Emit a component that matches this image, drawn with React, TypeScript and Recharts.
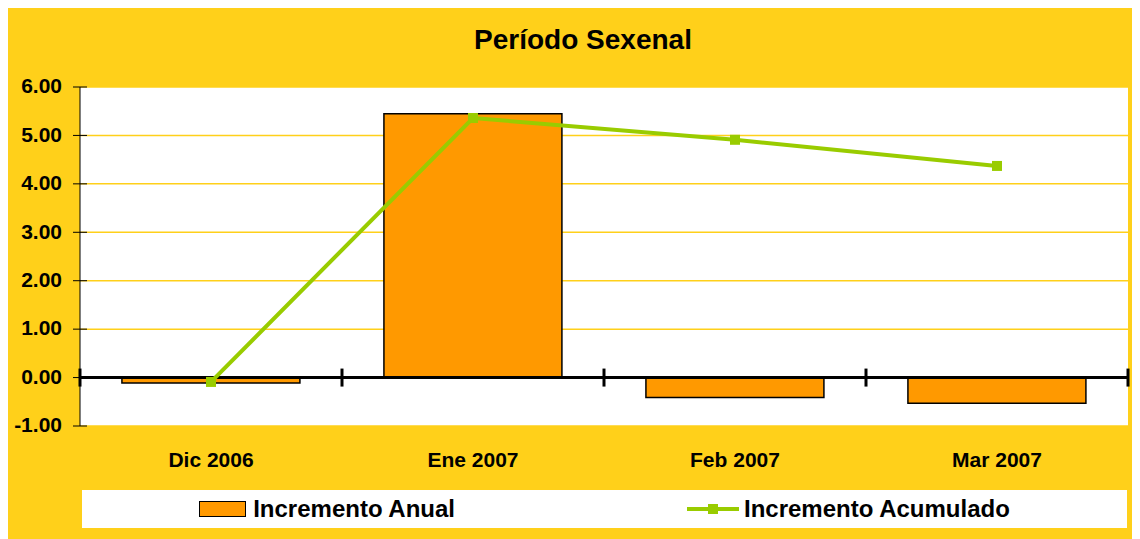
import {
  ComposedChart,
  Bar,
  Line,
  XAxis,
  YAxis,
  CartesianGrid,
  ReferenceLine,
} from 'recharts'

const categories = ['Dic 2006', 'Ene 2007', 'Feb 2007', 'Mar 2007']
const incrementoAnual = [-0.11, 5.45, -0.41, -0.53]
const incrementoAcumulado = [-0.09, 5.36, 4.91, 4.37]
const yTicks = [-1, 0, 1, 2, 3, 4, 5, 6]

const data = categories.map((mes, i) => ({
  mes,
  anual: incrementoAnual[i],
  acumulado: incrementoAcumulado[i],
}))

const FONT = '"Liberation Sans", Arial, sans-serif'
const YELLOW = '#FFD01A'
const ORANGE = '#FF9900'
const GREEN = '#99CC00'

// y tick: label plus a short tick mark crossing the axis line
function YTick(props: any) {
  const { x, y, payload } = props
  const axisX = x + 18
  return (
    <g>
      <line x1={axisX - 7} x2={axisX + 7} y1={y} y2={y} stroke="#000" strokeWidth={1} />
      <text
        x={x}
        y={y}
        dy="0.3em"
        textAnchor="end"
        fontFamily={FONT}
        fontWeight="bold"
        fontSize={21}
        fill="#000"
      >
        {Number(payload.value).toFixed(2)}
      </text>
    </g>
  )
}

// zero line with crossing ticks at the category boundaries
function ZeroLine(props: any) {
  const { x1, x2, y1 } = props
  const n = categories.length
  const step = (x2 - x1) / n
  const marks = []
  for (let i = 0; i <= n; i++) {
    const x = x1 + step * i
    marks.push(<line key={i} x1={x} x2={x} y1={y1 - 9} y2={y1 + 9} stroke="#000" strokeWidth={3} />)
  }
  return (
    <g>
      <line x1={x1} x2={x2} y1={y1} y2={y1} stroke="#000" strokeWidth={3} />
      {marks}
    </g>
  )
}

function SquareDot(props: any) {
  const { cx, cy } = props
  if (cx == null || cy == null) return null
  return <rect x={cx - 5} y={cy - 5} width={10} height={10} fill={GREEN} />
}

export default function App() {
  return (
    <div style={{ position: 'relative', width: 1132, height: 531, background: YELLOW }}>
      <div
        style={{
          position: 'absolute',
          top: 16,
          left: 0,
          width: 1150,
          textAlign: 'center',
          fontFamily: FONT,
          fontWeight: 'bold',
          fontSize: 28,
          color: '#000',
        }}
      >
        Período Sexenal
      </div>
      <ComposedChart
        width={1132}
        height={531}
        data={data}
        margin={{ top: 79, right: 12, left: 0, bottom: 73 }}
        barCategoryGap="16%"
      >
        <CartesianGrid vertical={false} stroke={YELLOW} strokeWidth={1.5} fill="#FFFFFF" />
        <XAxis
          dataKey="mes"
          height={40}
          axisLine={false}
          tickLine={false}
          tickSize={0}
          tickMargin={26}
          tick={{ fontFamily: FONT, fontWeight: 'bold', fontSize: 21, fill: '#000' }}
          interval={0}
        />
        <YAxis
          width={72}
          domain={[-1, 6]}
          ticks={yTicks}
          interval={0}
          axisLine={{ stroke: '#000', strokeWidth: 1 }}
          tickLine={false}
          tickSize={0}
          tickMargin={18}
          tick={<YTick />}
        />
        <Bar dataKey="anual" fill={ORANGE} stroke="#000" strokeWidth={1.5} isAnimationActive={false} />
        <ReferenceLine y={0} shape={<ZeroLine />} />
        <Line
          dataKey="acumulado"
          stroke={GREEN}
          strokeWidth={4}
          dot={<SquareDot />}
          activeDot={false}
          isAnimationActive={false}
        />
      </ComposedChart>
      <div
        style={{
          position: 'absolute',
          left: 74,
          top: 482,
          width: 1045,
          height: 38,
          background: '#FFFFFF',
          display: 'flex',
          alignItems: 'center',
          justifyContent: 'center',
          gap: 232,
          fontFamily: FONT,
          fontWeight: 'bold',
          fontSize: 24,
          color: '#000',
        }}
      >
        <div style={{ display: 'flex', alignItems: 'center' }}>
          <span
            style={{
              display: 'inline-block',
              width: 45,
              height: 14,
              background: ORANGE,
              border: '1.5px solid #000',
              marginRight: 7,
            }}
          />
          Incremento Anual
        </div>
        <div style={{ display: 'flex', alignItems: 'center' }}>
          <svg width={52} height={14} style={{ marginRight: 5 }}>
            <line x1={0} x2={52} y1={7} y2={7} stroke={GREEN} strokeWidth={4} />
            <rect x={21} y={2} width={10} height={10} fill={GREEN} />
          </svg>
          Incremento Acumulado
        </div>
      </div>
    </div>
  )
}
